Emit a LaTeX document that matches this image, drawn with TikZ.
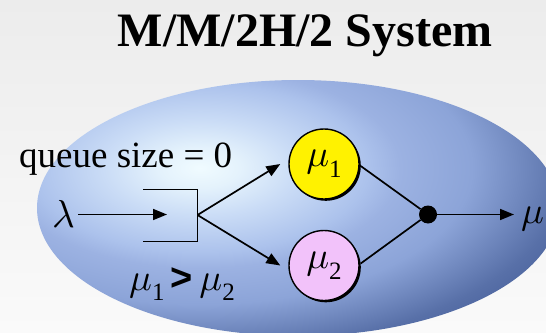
\documentclass[tikz,border=0pt]{standalone}
\usepackage{graphicx}
\usepackage{fontspec}
\setmainfont{Liberation Serif}
\newfontfamily\arialfam{Liberation Sans}
\usetikzlibrary{arrows.meta,shadows}
\definecolor{c0}{HTML}{F0FBFF}
\definecolor{c1}{HTML}{E4F2FC}
\definecolor{c2}{HTML}{CADCF6}
\definecolor{c3}{HTML}{ACC2EC}
\definecolor{c4}{HTML}{9CB2E2}
\definecolor{c5}{HTML}{8CA4D8}
\definecolor{c6}{HTML}{5870A8}
\definecolor{c7}{HTML}{4E66A0}
\definecolor{bgtop}{HTML}{ECECEC}
\definecolor{bgbot}{HTML}{FAFAFA}
\definecolor{pinkserv}{HTML}{F2C2FA}
\pgfdeclareradialshading{ellshade}{\pgfpoint{0bp}{0bp}}{color(0bp)=(c0); color(2.5bp)=(c1); color(6bp)=(c2); color(10.5bp)=(c3); color(12.5bp)=(c4); color(17bp)=(c5); color(23bp)=(c6); color(25bp)=(c7); color(50bp)=(c7)}
\newcommand\bigmu{\scalebox{3.8}{\fontsize{10}{12}\selectfont$\mu$}}
\newcommand\mymu[1]{\bigmu\raisebox{-0.28em}{\fontsize{25}{25}\selectfont #1}}
\tikzset{
  conn/.style={line width=1.7pt},
  arr/.style={conn,-{Triangle[length=14pt,width=11pt]}},
  serv/.style={circle,draw,line width=1.4pt,minimum size=70pt,inner sep=0pt,
    font=\fontsize{38}{38}\selectfont,
    drop shadow={shadow xshift=1.8pt,shadow yshift=-1.8pt,fill=black,opacity=1}},
  lbl/.style={inner sep=0pt,font=\fontsize{37}{37}\selectfont},
}
\begin{document}
\begin{tikzpicture}[x=1pt,y=-1pt]
\useasboundingbox (0,0) rectangle (546,332);
\shade[top color=bgtop,bottom color=bgbot] (0,0) rectangle (546,332);
\begin{scope}
\clip (298,208) ellipse [x radius=261pt,y radius=128pt];
\shade[shading=ellshade] (-200,-32) rectangle (600,368);
\end{scope}
% title
\node[inner sep=0pt,anchor=base,font=\fontsize{48}{48}\selectfont\bfseries] (title) at (305,46) {M/M/2H/2 System};
% labels
\node[lbl,anchor=base west] (qs) at (19,167) {queue size = 0};
\node[lbl,anchor=base west] (cmp) at (129,290) {\fontsize{38}{38}\selectfont\mymu{1}\,{\arialfam\bfseries >}\,\mymu{2}};
\node[lbl,anchor=base west] (lam) at (52,227) {\scalebox{3.9}{\fontsize{10}{12}\selectfont$\lambda$}};
% queue
\coordinate (qt) at (143,189.5);
\coordinate (qc) at (197.5,189.5);
\coordinate (qd) at (197.5,241.5);
\coordinate (qb) at (143,241.5);
\coordinate (qr) at (197.5,215);
\coordinate (qin) at (167,214.5);
\draw[conn] (qt) -- (qc) -- (qd) -- (qb);
\draw[arr] (lam.east |- qin) ++(3,0) -- (qin);
% servers
\node[serv,fill=yellow] (m1) at (324,164) {\mymu{1}};
\node[serv,fill=pinkserv] (m2) at (324,265.5) {\mymu{2}};
\draw[arr] (qr) -- ([xshift=-8pt]m1.west);
\draw[arr] (qr) -- ([xshift=-8pt]m2.west);
% join
\node[circle,fill=black,inner sep=0pt,minimum size=18pt] (dot) at (428,214.5) {};
\draw[conn] (m1.east) ++(1,2) -- (dot);
\draw[conn] (m2.east) ++(1,-2) -- (dot);
\coordinate (out) at (514,214.5);
\draw[arr] (dot) -- (out);
\node[lbl,anchor=base west] (mu) at (521,223) {\bigmu};
\end{tikzpicture}
\end{document}
